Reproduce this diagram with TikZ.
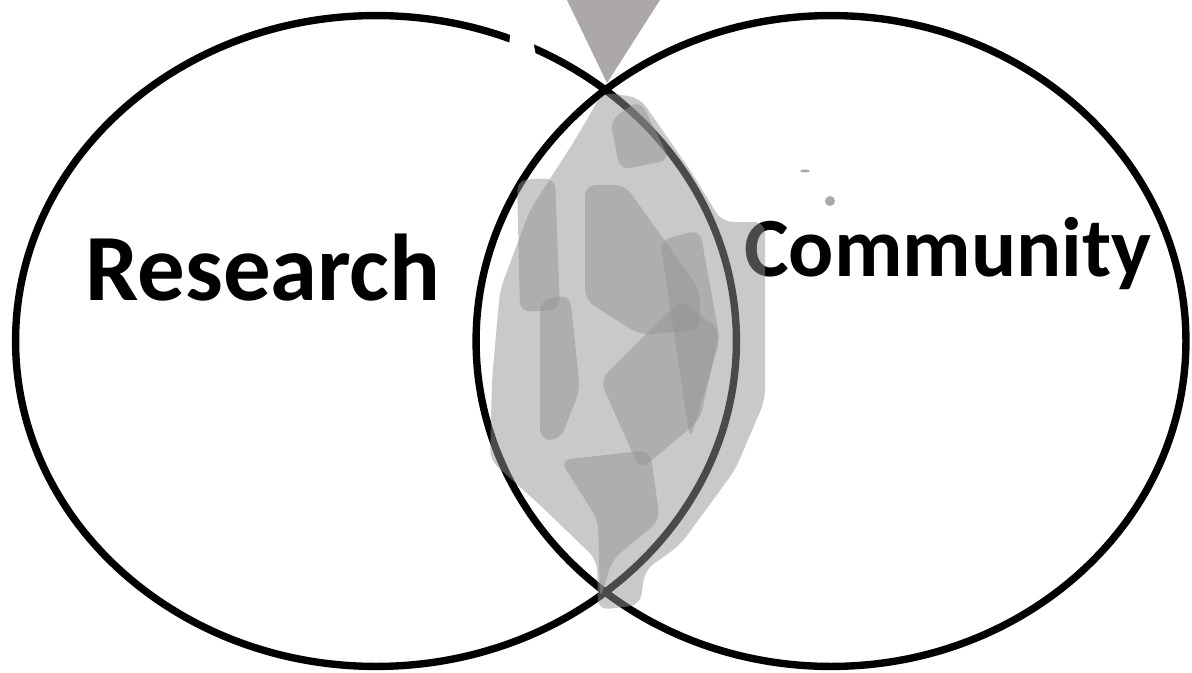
\documentclass[tikz,border=0pt]{standalone}
\usepackage{fontspec}
\setmainfont{Carlito}
\usetikzlibrary{shapes.geometric}
\definecolor{cone}{RGB}{172,168,168}

\begin{document}
\begin{tikzpicture}[
  x={(0.02cm,0)}, y={(0,-0.02cm)},
  setring/.style={ellipse, draw, line width=4.2pt, inner sep=0pt, outer sep=0pt},
  setname/.style={anchor=base, inner sep=0pt, font=\bfseries\fontsize{#1}{#1}\selectfont},
  smudge/.style={fill=black!42, fill opacity=0.5, draw=none, rounded corners=6pt}
]
\useasboundingbox (0,0) rectangle (1192,672);
\fill[cone] (567,0) -- (660,0) -- (607,83) -- cycle;
\node[setring, minimum width=14.42cm, minimum height=13.02cm] (left) at (376,341) {};
\node[setring, minimum width=14.2cm, minimum height=13.02cm] (right) at (831,341) {};
\fill[white] (511,28) -- (532,34) -- (537,62) -- (508,54) -- cycle;
\node[setname=54] (research) at (263,300) {Research};
\node[setname=48] (community) at (948,276) {Community};
\fill[cone] (830,201) circle[radius=5];
\fill[cone] (805,171) ellipse[x radius=5, y radius=1.5];

\fill[smudge] (603,92) -- (640,98) -- (690,170) -- (722,222) -- (765,222) -- (765,400)
  -- (735,470) -- (680,545) -- (645,570) -- (640,605) -- (598,610) -- (597,560)
  -- (540,505) -- (490,460) -- (492,380) -- (500,290) -- (530,210) -- (575,140) -- cycle;
\fill[smudge] (517,180) -- (555,178) -- (560,310) -- (520,312) -- cycle;
\fill[smudge] (585,185) -- (625,185) -- (700,290) -- (700,330) -- (640,335) -- (585,300) -- cycle;
\fill[smudge] (540,300) -- (570,295) -- (580,390) -- (560,440) -- (540,440) -- cycle;
\fill[smudge] (600,380) -- (680,300) -- (720,330) -- (700,420) -- (640,470) -- cycle;
\fill[smudge] (560,460) -- (650,450) -- (660,520) -- (612,560) -- (600,600) -- (598,520) -- cycle;
\fill[smudge] (610,120) -- (640,100) -- (670,160) -- (620,170) -- cycle;
\fill[smudge] (660,240) -- (700,230) -- (720,340) -- (690,440) -- cycle;
\end{tikzpicture}
\end{document}
